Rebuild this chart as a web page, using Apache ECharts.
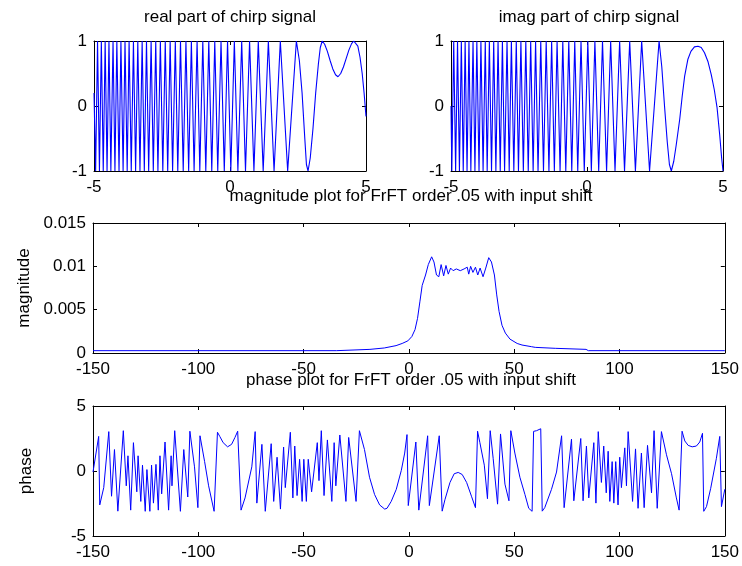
<!DOCTYPE html>
<html>
<head>
<meta charset="utf-8">
<script src="https://cdn.jsdelivr.net/npm/echarts@6/dist/echarts.min.js"></script>
<style>
  html, body { margin: 0; padding: 0; background: #fff; }
  #main { width: 742px; height: 566px; }
</style>
</head>
<body>
<div id="main"></div>
<script>
// real part of the chirp
var realX = [-5.00, -4.94, -4.87, -4.80, -4.73, -4.66, -4.59, -4.52, -4.45, -4.38, -4.30, -4.23, -4.16, -4.08, -4.01, -3.93,
  -3.86, -3.78, -3.71, -3.63, -3.55, -3.47, -3.39, -3.31, -3.23, -3.15, -3.07, -2.99, -2.90, -2.82, -2.73, -2.65,
  -2.56, -2.47, -2.38, -2.29, -2.20, -2.11, -2.01, -1.92, -1.82, -1.72, -1.62, -1.52, -1.42, -1.32, -1.21, -1.11,
  -1.00, -0.89, -0.78, -0.67, -0.56, -0.45, -0.33, -0.21, -0.09, 0.03, 0.16, 0.29, 0.43, 0.57, 0.72, 0.88,
  1.04, 1.22, 1.41, 1.62, 1.85, 2.12, 2.44, 2.55, 2.65, 2.75, 2.81, 2.87, 2.95, 3.05, 3.15, 3.25,
  3.32, 3.39, 3.48, 3.58, 3.68, 3.78, 3.88, 3.97, 4.07, 4.17, 4.27, 4.37, 4.47, 4.55, 4.62, 4.70,
  4.78, 4.86, 4.93, 5.00]
var realY = [0.2, -1, 1, -1, 1, -1, 1, -1, 1, -1, 1, -1, 1, -1, 1, -1,
  1, -1, 1, -1, 1, -1, 1, -1, 1, -1, 1, -1, 1, -1, 1, -1,
  1, -1, 1, -1, 1, -1, 1, -1, 1, -1, 1, -1, 1, -1, 1, -1,
  1, -1, 1, -1, 1, -1, 1, -1, 1, -1, 1, -1, 1, -1, 1, -1,
  1, -1, 1, -1, 1, -1, 1, 0.7, 0.2, -0.5, -0.9, -1, -0.8, -0.35, 0.2, 0.65,
  0.9, 1, 0.95, 0.84, 0.7, 0.57, 0.48, 0.45, 0.5, 0.6, 0.73, 0.86, 0.96, 1, 1, 0.92,
  0.75, 0.5, 0.2, -0.16]

// imaginary part, top-right panel
var imagX = [-5.00, -4.97, -4.90, -4.83, -4.76, -4.69, -4.62, -4.55, -4.48, -4.41, -4.34, -4.27, -4.19, -4.12, -4.05, -3.97,
  -3.90, -3.82, -3.74, -3.67, -3.59, -3.51, -3.43, -3.35, -3.27, -3.19, -3.11, -3.03, -2.94, -2.86, -2.78, -2.69,
  -2.60, -2.52, -2.43, -2.34, -2.25, -2.16, -2.07, -1.98, -1.89, -1.80, -1.70, -1.60, -1.50, -1.40, -1.30, -1.20,
  -1.10, -0.99, -0.89, -0.78, -0.67, -0.56, -0.45, -0.34, -0.22, -0.10, 0.03, 0.16, 0.29, 0.43, 0.57, 0.72,
  0.87, 1.03, 1.20, 1.38, 1.57, 1.78, 2.01, 2.30, 2.65, 2.75, 2.85, 2.95, 3.03, 3.10, 3.19, 3.28,
  3.41, 3.50, 3.59, 3.71, 3.82, 3.95, 4.08, 4.20, 4.32, 4.45, 4.57, 4.68, 4.78, 4.88, 4.95, 5.00]
var imagY = [0, -1, 1, -1, 1, -1, 1, -1, 1, -1, 1, -1, 1, -1, 1, -1,
  1, -1, 1, -1, 1, -1, 1, -1, 1, -1, 1, -1, 1, -1, 1, -1,
  1, -1, 1, -1, 1, -1, 1, -1, 1, -1, 1, -1, 1, -1, 1, -1,
  1, -1, 1, -1, 1, -1, 1, -1, 1, -1, 1, -1, 1, -1, 1, -1,
  1, -1, 1, -1, 1, -1, 1, -1, 1, 0.6, 0.0, -0.55, -0.9, -1, -0.85, -0.6,
  -0.2, 0.15, 0.46, 0.72, 0.84, 0.91, 0.92, 0.9, 0.82, 0.68, 0.48, 0.25, -0.02, -0.45, -0.8, -1]

// FrFT magnitude, middle panel
var magX = [-150, -34.3, -33.8, -18.5, -18.0, -11.7, -11.3, -6.1, -3.2, -0.5, 1.4, 2.9, 4.1, 5.2, 6.3, 7.9,
  9.2, 10.8, 11.9, 13.1, 14.2, 15.3, 16.5, 17.6, 18.7, 19.8, 21.0, 22.5, 24.4, 26.2, 27.7, 28.4,
  29.3, 30.4, 31.6, 32.7, 33.8, 35.2, 36.5, 37.9, 39.2, 40.6, 41.7, 42.8, 44.2, 45.8, 48.0, 51.4,
  53.7, 58.2, 60.0, 60.4, 69.5, 84.1, 85.2, 150]
var magY = [0.00027, 0.00027, 0.00042, 0.00042, 0.00058, 0.00058, 0.00073, 0.00085, 0.0011, 0.0014, 0.0019, 0.0027, 0.0040, 0.0059, 0.0078, 0.0090,
  0.0102, 0.0111, 0.0105, 0.0090, 0.0088, 0.0102, 0.0089, 0.0101, 0.0091, 0.0098, 0.0095, 0.0097, 0.0095, 0.0097, 0.0099, 0.0091,
  0.0100, 0.0093, 0.0099, 0.0090, 0.0098, 0.0088, 0.0098, 0.0110, 0.0105, 0.0090, 0.0067, 0.0048, 0.0032, 0.0023, 0.0016, 0.0011,
  0.00092, 0.00073, 0.00065, 0.00058, 0.00054, 0.00042, 0.00027, 0.00027]

// FrFT phase, bottom panel
var phaseX = [-150.0, -147.3, -146.8, -144.9, -142.5, -141.2, -139.8, -138.2, -135.6, -134.2, -133.4, -132.1, -130.8, -129.2, -128.6, -127.3,
  -126.5, -125.2, -124.4, -123.0, -122.2, -121.3, -120.1, -119.0, -118.2, -117.4, -115.8, -114.1, -112.9, -112.5, -111.2, -108.5,
  -106.9, -105.0, -104.0, -101.8, -100.2, -99.2, -97.0, -95.1, -92.5, -90.9, -89.8, -88.2, -86.1, -84.2, -82.6, -81.3,
  -79.7, -77.8, -74.6, -73.0, -72.2, -69.8, -68.2, -65.4, -64.2, -62.6, -61.0, -59.5, -58.7, -56.3, -55.1, -54.2,
  -53.1, -51.9, -50.7, -49.9, -48.7, -47.8, -46.2, -43.5, -42.7, -41.6, -40.3, -38.7, -36.6, -35.5, -34.7, -32.8,
  -29.9, -28.6, -25.1, -23.5, -21.1, -18.7, -16.3, -13.9, -11.5, -10.4, -8.4, -6.0, -3.6, -2.0, -0.9, -0.3,
  3.3, 4.7, 8.9, 9.7, 14.4, 15.8, 17.1, 19.5, 21.5, 23.4, 25.3, 27.4, 29.7, 31.6, 32.6, 33.7,
  35.8, 37.3, 38.6, 40.0, 42.1, 43.5, 45.6, 47.5, 48.4, 50.3, 52.7, 55.1, 56.9, 58.5, 59.2, 60.6,
  62.6, 63.3, 64.5, 67.7, 70.1, 72.5, 73.7, 77.2, 78.3, 81.6, 82.7, 84.3, 85.4, 87.8, 88.8, 89.9,
  91.4, 92.5, 93.7, 94.6, 95.4, 96.5, 97.3, 98.2, 99.3, 100.1, 100.9, 102.5, 103.3, 104.1, 106.2, 107.6,
  108.8, 110.4, 111.7, 113.3, 115.2, 116.4, 117.9, 119.9, 122.3, 124.7, 127.0, 128.3, 129.7, 131.0, 132.6, 134.5,
  136.5, 138.1, 139.4, 140.0, 141.3, 143.3, 146.0, 147.6, 148.4, 150.0]
var phaseY = [-0.08, 2.66, -2.61, -1.28, 3.03, -1.94, 1.65, -3.09, 3.10, -1.14, 1.17, -3.01, 2.18, -1.60, 1.17, -2.34,
  0.45, -3.10, 0.11, -3.10, 0.45, -2.47, 0.51, -3.01, 1.17, -1.76, 2.23, -3.01, 1.17, -1.14, 3.10, -3.10,
  1.65, -2.00, 3.06, 0.32, -2.82, 2.71, 0.72, -1.14, -3.10, 2.98, 2.66, 2.18, 1.86, 2.05, 2.58, 3.06,
  -3.01, -2.07, 0.32, 3.03, -2.47, 2.05, -3.10, 2.10, -2.34, 1.06, -2.93, 1.84, -1.28, 2.98, -2.07, 1.92,
  -1.89, 0.90, -2.34, 0.90, -2.34, 0.90, -1.60, 2.18, -0.74, 3.10, -1.89, 2.39, -2.34, 2.18, -1.14, 2.77,
  -2.34, 2.58, -2.34, 3.10, 1.65, -0.48, -1.81, -2.61, -2.93, -2.87, -2.34, -1.41, 0.05, 1.38, 2.80, -2.66,
  2.23, -3.01, 2.71, -2.66, 2.71, -3.09, -2.21, -0.88, -0.21, -0.11, -0.27, -0.88, -1.94, -2.82, 3.06, 2.18,
  0.45, -2.13, 3.10, 0.98, -2.55, 2.85, -1.01, -2.29, 3.10, 1.38, -0.48, -1.81, -2.87, -3.10, 3.05, 3.10,
  3.25, -3.09, -2.82, -1.41, -0.08, 2.71, -2.82, 2.45, -2.29, 2.50, -2.29, 1.92, -2.07, 2.18, -2.47, 3.03,
  -0.88, 1.92, -1.68, 1.52, -2.34, 0.72, -2.47, 0.72, -2.61, 1.06, -1.28, 1.78, -1.14, 3.03, -2.34, 1.70,
  -2.87, 1.38, -2.82, 1.97, -1.68, 3.10, -2.87, 3.03, 1.25, -0.21, -2.07, -3.01, 3.06, 2.31, 1.97, 1.86,
  1.92, 2.23, 2.90, -3.10, -2.74, -1.33, 0.98, 2.66, -2.74, -1.40]

function pairs (xs, ys) {
  return xs.map(function (x, i) { return [x, ys[i]] })
}

var font = 'Liberation Sans, Arial, sans-serif'
var fs = 17

// one MATLAB-style subplot: box on all sides, ticks pointing in
var panels = [
  { left: 94, top: 41, width: 272, height: 130, xmin: -5, xmax: 5, xstep: 5, ymin: -1, ymax: 1, ystep: 1, lw: 1.1 },
  { left: 451, top: 41, width: 272, height: 130, xmin: -5, xmax: 5, xstep: 5, ymin: -1, ymax: 1, ystep: 1, lw: 1.1 },
  { left: 93, top: 223, width: 634, height: 130, xmin: -150, xmax: 150, xstep: 50, ymin: 0, ymax: 0.015, ystep: 0.005, yname: 'magnitude', lw: 1 },
  { left: 93, top: 406, width: 634, height: 130, xmin: -150, xmax: 150, xstep: 50, ymin: -5, ymax: 5, ystep: 5, yname: 'phase', lw: 1 }
]

var grids = []
var xAxes = []
var yAxes = []
panels.forEach(function (p, i) {
  grids.push({ left: p.left, top: p.top, width: p.width, height: p.height, containLabel: false })
  var line = { show: true, onZero: false, lineStyle: { color: '#000', width: 1 } }
  var tick = { show: true, inside: true, length: 4, lineStyle: { color: '#000' } }
  var lab = { color: '#000', fontFamily: font, fontSize: fs }
  xAxes.push({
    type: 'value', gridIndex: i, min: p.xmin, max: p.xmax, interval: p.xstep, position: 'bottom',
    axisLine: line, axisTick: tick, splitLine: { show: false },
    axisLabel: Object.assign({ margin: 8, showMinLabel: true, showMaxLabel: true }, lab)
  })
  xAxes.push({
    type: 'value', gridIndex: i, min: p.xmin, max: p.xmax, interval: p.xstep, position: 'top',
    axisLine: line, axisTick: tick, splitLine: { show: false }, axisLabel: { show: false }
  })
  yAxes.push({
    type: 'value', gridIndex: i, min: p.ymin, max: p.ymax, interval: p.ystep, position: 'left',
    axisLine: line, axisTick: tick, splitLine: { show: false },
    axisLabel: Object.assign({
      margin: 7,
      formatter: function (v) { return String(+v.toFixed(3)) }
    }, lab),
    name: p.yname || '',
    nameLocation: 'middle',
    nameGap: 58,
    nameTextStyle: { color: '#000', fontFamily: font, fontSize: fs }
  })
  yAxes.push({
    type: 'value', gridIndex: i, min: p.ymin, max: p.ymax, interval: p.ystep, position: 'right',
    axisLine: line, axisTick: tick, splitLine: { show: false }, axisLabel: { show: false }
  })
})

var seriesData = [pairs(realX, realY), pairs(imagX, imagY), pairs(magX, magY), pairs(phaseX, phaseY)]
var series = seriesData.map(function (d, i) {
  return {
    type: 'line',
    xAxisIndex: i * 2,
    yAxisIndex: i * 2,
    data: d,
    showSymbol: false,
    symbol: 'none',
    lineStyle: { color: '#0000ff', width: panels[i].lw },
    animation: false
  }
})

var titles = [
  { text: 'real part of chirp signal', x: 230, y: 17 },
  { text: 'imag part of chirp signal', x: 589, y: 17 },
  { text: 'magnitude plot for FrFT order .05 with input shift', x: 411, y: 196 },
  { text: 'phase plot for FrFT order .05 with input shift', x: 411, y: 380 }
]

var myChart = echarts.init(document.getElementById('main'))
var option = {
  backgroundColor: '#fff',
  animation: false,
  grid: grids,
  xAxis: xAxes,
  yAxis: yAxes,
  series: series,
  graphic: titles.map(function (t) {
    return {
      type: 'text',
      x: t.x,
      y: t.y,
      style: { text: t.text, fill: '#000', font: fs + 'px ' + font, align: 'center', verticalAlign: 'middle' }
    }
  })
}
myChart.setOption(option)
</script>
</body>
</html>
